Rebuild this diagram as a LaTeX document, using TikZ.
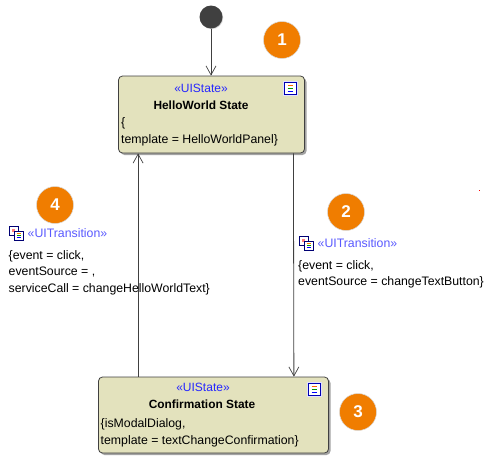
\documentclass[tikz,border=0pt]{standalone}
\usepackage{fontspec}
\setmainfont{Liberation Sans}
\usetikzlibrary{positioning,arrows.meta,calc,shadows}

\tikzset{
  stateicon/.pic={
    \fill[blue!12] (-7.5,-7.5) rectangle (7.5,7.5);
    \draw[draw=blue!70!black, fill=white, line width=1pt] (-6,-6) rectangle (6,6);
    \draw[orange!80!red, line width=0.9pt] (-2.5,-3) -- (2.5,-3);
    \draw[green!60!black, line width=0.9pt] (-2.5,0) -- (2.5,0);
    \draw[blue, line width=0.9pt] (-2.5,3) -- (2.5,3);
  },
  transicon/.pic={
    \draw[draw=blue!45!black, fill=white, line width=0.8pt] (-7,-7) rectangle (2,2);
    \fill[red!50] (-4.5,-4.5) rectangle (-1.5,-1.5);
    \draw[draw=blue!45!black, fill=white, line width=0.8pt] (-2,-2) rectangle (7,7);
    \draw[orange, line width=0.8pt] (0.5,0.5) -- (4.5,0.5);
    \draw[green!60!black, line width=0.8pt] (0.5,2.5) -- (4.5,2.5);
    \draw[blue, line width=0.8pt] (0.5,4.5) -- (4.5,4.5);
  }
}

\begin{document}
\begin{tikzpicture}[
  x=1pt, y=-1pt,
  font=\fontsize{12.3}{14}\selectfont,
  >={Straight Barb[length=9pt, width=10pt, line width=0.7pt]},
  umlstate/.style={draw=black!75, fill=statefill, rounded corners=4pt, line width=0.8pt, inner sep=0pt,
    drop shadow={shadow xshift=2pt, shadow yshift=-2pt, fill=black!45, opacity=0.8}},
  stereo/.style={inner sep=0pt, text=blue!85!white, font=\fontsize{12}{14}\selectfont},
  transstereo/.style={inner sep=0pt, text=blue!65!white},
  title/.style={inner sep=0pt, font=\fontsize{11.9}{14}\selectfont\bfseries},
  body/.style={inner sep=0pt, align=left},
  badge/.style={circle, fill=badgeorange, draw=black!15, line width=0.5pt, minimum size=37pt, inner sep=0pt, text=white,
    font=\fontsize{17}{17}\selectfont\bfseries},
  flow/.style={->, draw=black!75, line width=0.8pt}
]
\definecolor{statefill}{HTML}{E3E2BD}
\definecolor{badgeorange}{HTML}{F07D00}
\useasboundingbox (0,0) rectangle (490,466);

\node[circle, minimum size=23pt, inner sep=0pt, fill=black!75, drop shadow={shadow xshift=0.7pt, shadow yshift=-0.7pt, fill=black!35}] (init) at (211,17) {};

\node[umlstate, minimum width=186pt, minimum height=77pt] (hello) at (211.5,114.5) {};
\node[stereo] (hellostereo) at (201,88.5) {«UIState»};
\node[title] (helloname) at (201,105) {HelloWorld State};
\node[body, anchor=north west] (hellobody) at (121,117.5) {\{\\[2.8pt]template = HelloWorldPanel\}};
\pic at (290,88.5) {stateicon};

\node[umlstate, minimum width=230pt, minimum height=76pt] (confirm) at (213.5,415) {};
\node[stereo] (confirmstereo) at (203,387.5) {«UIState»};
\node[title] (confirmname) at (202,404.5) {Confirmation State};
\node[body, anchor=north west] (confirmbody) at (100.5,418.5) {\{isModalDialog,\\[2.6pt]template = textChangeConfirmation\}};
\pic at (314,389) {stateicon};

\draw[flow] (init) -- (init |- hello.north);
\draw[flow] ([xshift=-11.5pt]hello.south east) -- ([xshift=-35pt]confirm.north east);
\draw[flow] ([xshift=40pt]confirm.north west) -- ([xshift=20pt]hello.south west);

\node[badge] (one) at (282,40) {1};
\node[badge] (two) at (346,212) {2};
\node[badge] (three) at (358,412) {3};
\node[badge] (four) at (55,205) {4};

\pic at (16,233) {transicon};
\node[transstereo, anchor=west] (leftstereo) at (27.5,233.5) {«UITransition»};
\node[body, anchor=north west] (leftbody) at (8.5,250) {\{event = click,\\[2.6pt]eventSource = ,\\[2.6pt]serviceCall = changeHelloWorldText\}};

\pic at (306,243) {transicon};
\node[transstereo, anchor=west] (rightstereo) at (317.5,243.5) {«UITransition»};
\node[body, anchor=north west] (rightbody) at (298,260) {\{event = click,\\[2.6pt]eventSource = changeTextButton\}};

\fill[red] (478.6,189.5) rectangle (479.6,190.5);
\end{tikzpicture}
\end{document}
